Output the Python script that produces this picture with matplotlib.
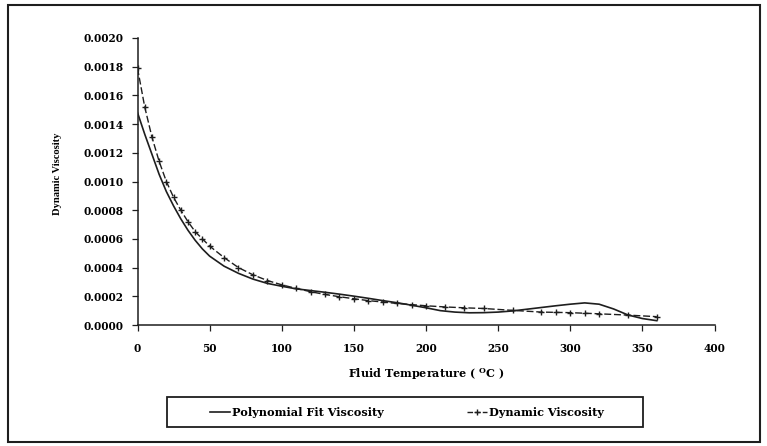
import matplotlib

matplotlib.use("Agg")
import matplotlib.pyplot as plt
from matplotlib.lines import Line2D
from matplotlib.patches import Rectangle

plt.rcParams.update({
    "font.family": "DejaVu Serif",
    "font.weight": "bold",
    "axes.labelweight": "bold",
    "font.size": 7.6,
    "mathtext.fontset": "custom",
    "mathtext.rm": "DejaVu Serif:bold",
})

# Dynamic viscosity (tabulated), temperature in deg C
temp_dyn = [0, 5, 10, 15, 20, 25, 30, 35, 40, 45, 50, 60, 70, 80, 90, 100,
            110, 120, 130, 140, 150, 160, 170, 180, 190, 200, 213, 226, 240,
            260, 280, 290, 300, 310, 320, 340, 360]
visc_dyn = [0.00179, 0.00152, 0.00131, 0.00114, 0.00100, 0.00089, 0.00080,
            0.00072, 0.00065, 0.00060, 0.00055, 0.00047, 0.00040, 0.00035,
            0.00031, 0.00028, 0.000255, 0.000232, 0.000213, 0.000197,
            0.000183, 0.000170, 0.000160, 0.000150, 0.000142, 0.000134,
            0.000126, 0.000120, 0.000115, 0.000102, 0.000090, 0.000088,
            0.000086, 0.000082, 0.000078, 0.000069, 0.000058]

# Polynomial fit of viscosity
temp_fit = [0, 5, 10, 15, 20, 25, 30, 35, 40, 45, 50, 60, 70, 80, 90, 100,
            110, 120, 130, 140, 150, 160, 170, 180, 190, 200, 210, 220, 230,
            240, 250, 260, 270, 280, 290, 300, 310, 320, 330, 340, 350, 360]
visc_fit = [0.00148, 0.00133, 0.00119, 0.00105, 0.00093, 0.00083, 0.00074,
            0.00066, 0.00059, 0.00053, 0.00048, 0.00041, 0.00036, 0.00032,
            0.00029, 0.00027, 0.000252, 0.000240, 0.000228, 0.000215, 0.000201,
            0.000186, 0.000170, 0.000155, 0.000138, 0.000120, 0.000100, 0.000090,
            0.000085, 0.000086, 0.000090, 0.000098, 0.000110, 0.000122, 0.000134,
            0.000145, 0.000154, 0.000145, 0.000112, 0.000070, 0.000045, 0.000030]

W, H = 767, 446
x0, x1, y0, y1 = 137.5, 714.5, 325, 38
fig = plt.figure(figsize=(W / 100, H / 100), dpi=100)
ax = fig.add_axes([x0 / W, 1 - y0 / H, (x1 - x0) / W, (y0 - y1) / H])

ink = "#1e1e1e"
ax.plot(temp_fit, visc_fit, color=ink, lw=1.2, label="Polynomial Fit Viscosity")
ax.plot(temp_dyn, visc_dyn, color=ink, lw=1.0, ls=(0, (5, 2)), marker="+",
        ms=4, mew=1.0, label="Dynamic Viscosity")

ax.set_xlim(0, 400)
ax.set_ylim(0, 0.002)
ax.set_xticks(range(0, 401, 50))
ax.set_yticks([i * 0.0002 for i in range(11)])
ax.yaxis.set_major_formatter(matplotlib.ticker.FormatStrFormatter("%.4f"))
for s in ("top", "right"):
    ax.spines[s].set_visible(False)
for s in ("left", "bottom"):
    ax.spines[s].set_linewidth(1.1)
    ax.spines[s].set_color(ink)
ax.tick_params(direction="out", length=4, width=0.9, color=ink)
ax.tick_params(axis="y", pad=6)
ax.tick_params(axis="x", pad=9)
ax.set_xlabel("Fluid Temperature ( $^{\\rm O}$C )", fontsize=8.0, labelpad=8.5)
ax.set_ylabel("Dynamic Viscosity", fontsize=7.6, family="Liberation Serif")
ax.yaxis.set_label_coords(-0.131, 0.526)

handles = [Line2D([], [], color=ink, lw=1.2),
           Line2D([], [], color=ink, lw=1.0, ls=(0, (4, 1.5)), marker="+",
                  ms=4, mew=1.0)]
leg = fig.legend(handles, ["Polynomial Fit Viscosity", "Dynamic Viscosity"],
                 loc="center", ncol=2, bbox_to_anchor=(407 / W, 1 - 412 / H),
                 frameon=False, handlelength=1.8, handletextpad=0.15,
                 columnspacing=7.4, fontsize=8.1, borderaxespad=0)

fig.patches.append(Rectangle((167 / W, 1 - 427 / H), (643 - 167) / W, 30 / H,
                             transform=fig.transFigure, fill=False,
                             edgecolor=ink, lw=1.3))
fig.patches.append(Rectangle((8 / W, 1 - 442 / H), (760 - 8) / W, (442 - 5) / H,
                             transform=fig.transFigure, fill=False,
                             edgecolor=ink, lw=1.5))

fig.savefig("out.png", dpi=100)
